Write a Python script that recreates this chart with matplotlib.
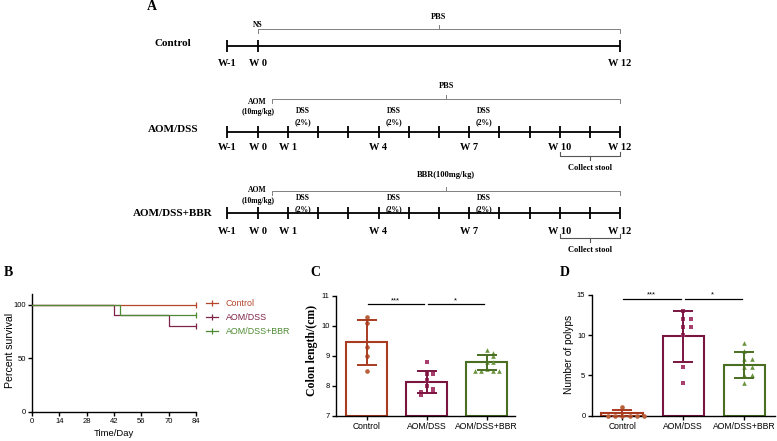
import matplotlib
matplotlib.use('Agg')
import matplotlib.pyplot as plt
from matplotlib.lines import Line2D
import numpy as np

# ---------------- data ----------------
groups = ['Control', 'AOM/DSS', 'AOM/DSS+BBR']

# Panel A: experimental timeline (weeks)
control_weeks = [-1, 0, 12]
treat_weeks = list(range(-1, 13))
control_week_labels = [-1, 0, 12]
treat_week_labels = [-1, 0, 1, 4, 7, 10, 12]
dss_start_weeks = [1, 4, 7]
stool_weeks = [10, 12]

# Panel B: survival (time in days, percent survival)
surv_t = {'Control': [0, 84], 'AOM/DSS': [0, 42, 70, 84], 'AOM/DSS+BBR': [0, 45, 84]}
surv_p = {'Control': [100, 100], 'AOM/DSS': [100, 90, 80, 80], 'AOM/DSS+BBR': [100, 90, 90]}
surv_xticks = [0, 14, 28, 42, 56, 70, 84]
surv_yticks = [0, 50, 100]

# Panel C: colon length (cm)
colon_control = [10.3, 10.1, 9.3, 9.0, 8.5]
colon_aom = [8.8, 8.4, 8.4, 8.2, 8.0, 7.9, 7.8, 7.8, 7.7]
colon_bbr = [9.2, 9.1, 9.0, 8.8, 8.8, 8.55, 8.5, 8.5, 8.5, 8.5]
colon_mean = [9.45, 8.12, 8.77]
colon_sd = [0.75, 0.36, 0.25]
colon_yticks = [7, 8, 9, 10, 11]

# Panel D: number of polyps
polyp_control = [1, 0, 0, 0, 0, 0, 0]
polyp_aom = [13, 12, 12, 11, 11, 10, 6, 4]
polyp_bbr = [9, 8, 7, 7, 6, 6, 5, 5, 4]
polyp_mean = [0.25, 9.85, 6.3]
polyp_sd = [0.42, 3.15, 1.6]
polyp_yticks = [0, 5, 10, 15]

comparisons = [(0, 1, '***'), (1, 2, '*')]
colon_sig_y = 10.72
polyp_sig_y = 14.5

# ---------------- style ----------------
W, H = 777, 441
SERIF = ['Liberation Serif', 'DejaVu Serif']
SANS = ['Liberation Sans', 'DejaVu Sans']
edge_colors = ['#a83b20', '#7a1540', '#4a6e22']
point_colors = ['#b8603a', '#a8406e', '#6b9440']
surv_colors = {'Control': '#b5462c', 'AOM/DSS': '#7d2448', 'AOM/DSS+BBR': '#4d8a32'}
markers = ['o', 's', '^']

fig = plt.figure(figsize=(W / 100, H / 100), dpi=100)

def fx(px):
    return px / W

def fy(py):
    return 1 - py / H

# ---------------- Panel A ----------------
W0_PX, WEEK_PX = 257.7, 30.2
axA = fig.add_axes([0, 0, 1, 1])
axA.set_xlim(-W0_PX / WEEK_PX, (W - W0_PX) / WEEK_PX)
axA.set_ylim(H, 0)
axA.axis('off')

def px2w(px):
    return (px - W0_PX) / WEEK_PX

def tb(x, y, s, size=6, **kw):
    axA.text(x, y, s, ha='center', va='center', fontsize=size,
             fontweight='bold', family=SERIF, **kw)

def timeline(y, weeks, labels, label_y):
    axA.plot([weeks[0], weeks[-1]], [y, y], color='black', lw=1.3, solid_capstyle='butt')
    axA.vlines(weeks, y - 6, y + 6, color='black', lw=1.3)
    for w in labels:
        tb(w, label_y, ('W%d' % w) if w < 0 else ('W %d' % w), size=7.5)

def top_bracket(w1, w2, y, label, label_y, color='#808080'):
    axA.plot([w1, w1, w2, w2], [y + 4, y, y, y + 4], color=color, lw=0.7)
    wm = (w1 + w2) / 2
    axA.plot([wm, wm], [y, y - 4], color=color, lw=0.7)
    tb(wm, label_y, label, size=6)

def bottom_bracket(w1, w2, y, label, label_y, color='#555555'):
    axA.plot([w1, w1, w2, w2], [y - 4, y, y, y - 4], color=color, lw=0.8)
    wm = (w1 + w2) / 2
    axA.plot([wm, wm], [y, y + 4], color=color, lw=0.8)
    tb(wm, label_y, label, size=6)

axA.text(px2w(152), 7, 'A', ha='center', va='center', fontsize=10, fontweight='bold', family=SERIF)

# Control row
tb(px2w(173), 44, groups[0], size=8)
timeline(46, control_weeks, control_week_labels, 63)
tb(0, 25, 'NS', size=5.5)
top_bracket(0, 12, 29, 'PBS', 17)

# AOM/DSS row
tb(px2w(173), 130, groups[1], size=8)
timeline(132, treat_weeks, treat_week_labels, 147)
top_bracket(px2w(272), 12, 99, 'PBS', 86)
tb(0, 102, 'AOM', size=5.5)
tb(0, 112, '(10mg/kg)', size=5.5)
for w in dss_start_weeks:
    tb(w + 0.5, 111, 'DSS', size=5.5)
    tb(w + 0.5, 122, '(2%)', size=5.5)
bottom_bracket(stool_weeks[0], stool_weeks[1], 156, 'Collect stool', 168)

# AOM/DSS+BBR row
tb(px2w(173), 213, groups[2], size=8)
timeline(213, treat_weeks, treat_week_labels, 231)
top_bracket(px2w(272), 12, 191, 'BBR(100mg/kg)', 175)
tb(0, 190, 'AOM', size=5.5)
tb(0, 201, '(10mg/kg)', size=5.5)
for w in dss_start_weeks:
    tb(w + 0.5, 198, 'DSS', size=5.5)
    tb(w + 0.5, 209, '(2%)', size=5.5)
bottom_bracket(stool_weeks[0], stool_weeks[1], 238, 'Collect stool', 250)

# panel letters
for letter, (x, y) in {'B': (8, 272), 'C': (315, 272), 'D': (565, 272)}.items():
    fig.text(fx(x), fy(y), letter, ha='center', va='center', fontsize=10,
             fontweight='bold', family=SERIF)

def style_axes(ax):
    ax.set_facecolor('none')
    for s in ['top', 'right']:
        ax.spines[s].set_visible(False)
    for s in ['left', 'bottom']:
        ax.spines[s].set_linewidth(1.0)
    ax.tick_params(length=3, width=1.0, labelsize=5.5, pad=1.5)
    for lab in ax.get_xticklabels() + ax.get_yticklabels():
        lab.set_family(SANS)

# ---------------- Panel B ----------------
axB = fig.add_axes([fx(32), fy(412), fx(164), 118 / H])
handles = []
for g in groups:
    c = surv_colors[g]
    axB.step(surv_t[g], surv_p[g], where='post', color=c, lw=0.9, clip_on=False, zorder=3)
    axB.plot(surv_t[g][-1], surv_p[g][-1], marker='|', ms=4, mew=0.9, color=c, clip_on=False, zorder=3)
    handles.append(Line2D([], [], color=c, lw=0.9, marker='|', ms=4, mew=0.9))
axB.set_xlim(0, 84)
axB.set_ylim(0, 110)
axB.set_xticks(surv_xticks)
axB.set_yticks(surv_yticks)
style_axes(axB)
leg = fig.legend(handles, groups, loc='upper left', bbox_to_anchor=(fx(206), fy(299)),
                 frameon=False, handlelength=1.4, handletextpad=0.8,
                 labelspacing=0.55, borderaxespad=0, borderpad=0,
                 prop={'family': SANS, 'size': 6.4})
for txt, g in zip(leg.get_texts(), groups):
    txt.set_color(surv_colors[g])
fig.text(fx(10), fy(350), 'Percent survival', rotation=90, ha='center', va='center',
         fontsize=7.6, family=SANS)
fig.text(fx(114), fy(434), 'Time/Day', ha='center', va='center', fontsize=6.8, family=SANS)

# ---------------- bar + scatter helper ----------------
def spread(values, tol, step):
    offs = []
    placed = []
    for v in values:
        k = sum(1 for p in placed if abs(p - v) < tol)
        placed.append(v)
        n = (k + 1) // 2
        offs.append(n * step * (1 if k % 2 == 1 else -1))
    return np.array(offs)

def bar_panel(ax, pts, means, sds, ylo, tol, step, sig_y):
    x = np.arange(len(groups))
    ax.bar(x, np.array(means) - ylo, bottom=ylo, width=0.68, facecolor='white',
           edgecolor=edge_colors, linewidth=1.5, zorder=2)
    for i, vals in enumerate(pts):
        offs = spread(vals, tol, step)
        ax.scatter(x[i] + offs, vals, marker=markers[i], s=11, color=point_colors[i],
                   linewidths=0, zorder=3, clip_on=False)
        ax.errorbar(x[i], means[i], yerr=sds[i], fmt='none', ecolor=edge_colors[i],
                    elinewidth=1.4, capsize=7.5, capthick=1.4, zorder=4)
    for a, b, lab in comparisons:
        ax.plot([a + 0.02, b - 0.04], [sig_y, sig_y], color='black', lw=0.9, clip_on=False)
        ax.text((a + b) / 2 - 0.02, sig_y, lab, ha='center', va='bottom', fontsize=5.5,
                family=SANS)
    ax.set_xticks(x)
    ax.set_xticklabels(groups)
    ax.set_xlim(-0.51, 2.47)
    style_axes(ax)
    ax.tick_params(axis='x', labelsize=6.2)

# ---------------- Panel C ----------------
axC = fig.add_axes([fx(336), fy(415.5), fx(179), 120 / H])
bar_panel(axC, [colon_control, colon_aom, colon_bbr], colon_mean, colon_sd, 7, 0.12, 0.1, colon_sig_y)
axC.set_ylim(7, 11)
axC.set_yticks(colon_yticks)
for lab in axC.get_yticklabels():
    lab.set_family(SANS)
fig.text(fx(312), fy(350), 'Colon length/(cm)', rotation=90, ha='center', va='center',
         fontsize=8.5, fontweight='bold', family=SERIF)

# ---------------- Panel D ----------------
axD = fig.add_axes([fx(591.7), fy(415.5), fx(183.3), 120.7 / H])
bar_panel(axD, [polyp_control, polyp_aom, polyp_bbr], polyp_mean, polyp_sd, 0, 0.6, 0.12, polyp_sig_y)
axD.set_xlim(-0.5, 2.5)
axD.set_ylim(0, 15)
axD.set_yticks(polyp_yticks)
for lab in axD.get_yticklabels():
    lab.set_family(SANS)
fig.text(fx(569), fy(354), 'Number of polyps', rotation=90, ha='center', va='center',
         fontsize=7.3, family=SANS)

fig.savefig('out.png', dpi=100)
